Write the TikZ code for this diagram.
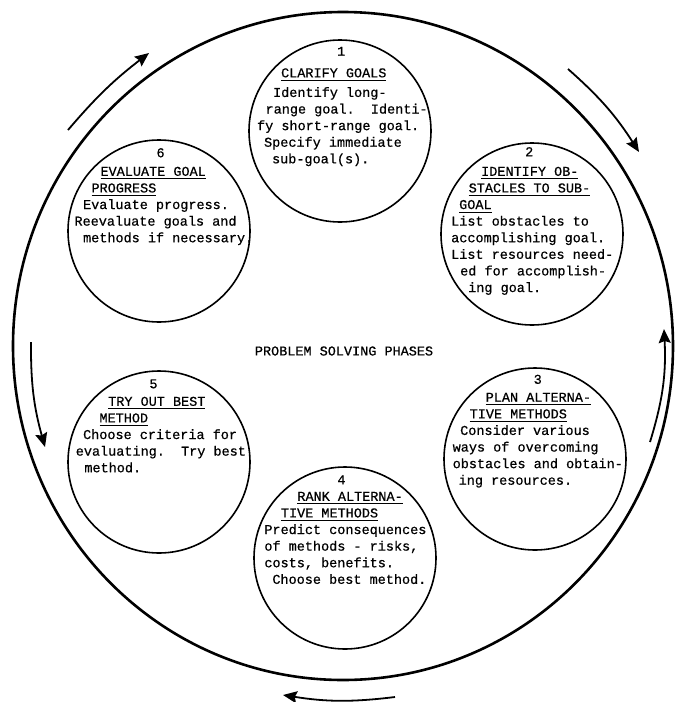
\documentclass[tikz,border=0pt]{standalone}
\usepackage{fontspec}
\setmonofont[FakeBold=0.6]{Liberation Mono}
\usepackage{tikz}
\usetikzlibrary{shapes.geometric, arrows.meta}
\newcommand{\typed}{\ttfamily\fontsize{13.5}{16.6}\selectfont\frenchspacing}
\newcommand{\phasehead}[1]{\setbox0=\hbox{#1}\rlap{\rule[-3.5pt]{\wd0}{1pt}}\box0}
\tikzstyle{bigring} = [ellipse, draw=black, line width=2.6pt, minimum width=660pt, minimum height=668pt, inner sep=0pt]
\tikzstyle{phasecircle} = [circle, draw=black, line width=1.6pt, minimum size=182pt, inner sep=0pt]
\tikzstyle{phasetext} = [anchor=north west, align=left, inner sep=0pt, font=\typed]
\tikzstyle{cyclearrow} = [line width=1.8pt, -{Stealth[length=14pt, width=12pt, inset=2pt]}]

\begin{document}
\begin{tikzpicture}[x=1pt, y=-1pt]
\useasboundingbox (0,0) rectangle (677,702);

% outer cycle
\node (outer) [bigring] at (343,346) {};
\node (title) [font=\typed] at (344,351) {PROBLEM SOLVING PHASES};

% the six phases
\node (p1) [phasecircle] at (340,131) {};
\node (p2) [phasecircle] at (532,234) {};
\node (p3) [phasecircle] at (535,459) {};
\node (p4) [phasecircle] at (345,558) {};
\node (p5) [phasecircle] at (159,462) {};
\node (p6) [phasecircle] at (159,231) {};

\node (t1) [phasetext] at (256.9,43.9) {\strut\hspace*{80pt}1\\[5pt]
\hspace*{24pt}\phasehead{CLARIFY GOALS}\\[3pt]
\hspace*{16pt}Identify long-\\
\hspace*{8.5pt}range goal.~ Identi-\\
fy short-range goal.\\
\hspace*{7pt}Specify immediate\\
\hspace*{15pt}sub-goal(s).};

\node (t2) [phasetext] at (451,144.4) {\strut\hspace*{74pt}2\\[3pt]
\hspace*{30pt}\phasehead{IDENTIFY OB-}\\
\hspace*{17.5pt}\phasehead{STACLES TO SUB-}\\
\hspace*{8pt}\phasehead{GOAL}\\
List obstacles to\\
accomplishing goal.\\
List resources need-\\
\hspace*{9pt}ed for accomplish-\\
\hspace*{17pt}ing goal.};

\node (t3) [phasetext] at (452.5,372) {\strut\hspace*{81pt}3\\[1.3pt]
\hspace*{33pt}\phasehead{PLAN ALTERNA-}\\
\hspace*{17pt}\phasehead{TIVE METHODS}\\
\hspace*{7.5pt}Consider various\\
ways of overcoming\\
obstacles and obtain-\\
\hspace*{6pt}ing resources.};

\node (t4) [phasetext] at (264.2,472.4) {\strut\hspace*{73pt}4\\
\hspace*{33pt}\phasehead{RANK ALTERNA-}\\
\hspace*{16.5pt}\phasehead{TIVE METHODS}\\
Predict consequences\\
of methods - risks,\\
costs, benefits.\\
\hspace*{8pt}Choose best method.};

\node (t5) [phasetext] at (75.6,376.4) {\strut\hspace*{73.6pt}5\\[1pt]
\hspace*{32.4pt}\phasehead{TRY OUT BEST}\\
\hspace*{23.7pt}\phasehead{METHOD}\\
\hspace*{7.3pt}Choose criteria for\\
evaluating.~ Try best\\
\hspace*{8.6pt}method.};

\node (t6) [phasetext] at (74.3,145.4) {\strut\hspace*{82pt}6\\[2pt]
\hspace*{26pt}\phasehead{EVALUATE GOAL}\\
\hspace*{17pt}\phasehead{PROGRESS}\\
\hspace*{8.6pt}Evaluate progress.\\
Reevaluate goals and\\
\hspace*{8.6pt}methods if necessary.};

% arrows round the cycle
\coordinate (a1s) at (68,130);
\coordinate (a1e) at (149,53);
\coordinate (a2s) at (568,69);
\coordinate (a2e) at (639,152);
\coordinate (a3s) at (650,442);
\coordinate (a3e) at (664,329);
\coordinate (a4s) at (395,697);
\coordinate (a4e) at (283,695);
\coordinate (a5s) at (31,342);
\coordinate (a5e) at (45,447);
\draw [cyclearrow] (a1s) to[bend left=6] (a1e);
\draw [cyclearrow] (a2s) to[bend left=8] (a2e);
\draw [cyclearrow] (a3s) to[bend right=10] (a3e);
\draw [cyclearrow] (a4s) to[bend left=8] (a4e);
\draw [cyclearrow] (a5s) to[bend right=8] (a5e);
\end{tikzpicture}
\end{document}
